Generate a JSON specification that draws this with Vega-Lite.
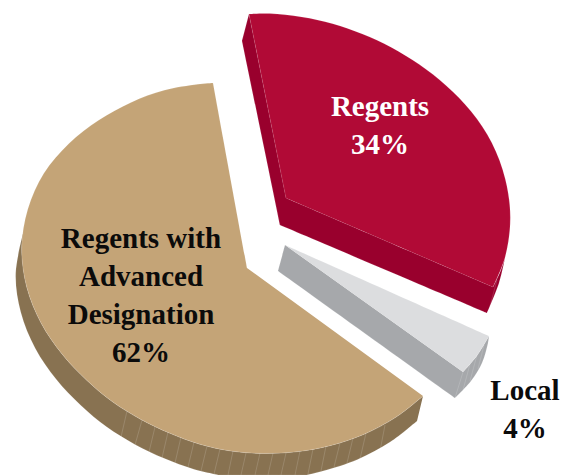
{"$schema":"https://vega.github.io/schema/vega-lite/v6.json","width":570,"height":475,"padding":0,"autosize":{"type":"none"},"background":"white","view":{"stroke":null},
"datasets":{
"outline":[
{"piece":"tan side","order":1,"x":423,"y":396},{"piece":"tan side","order":2,"x":423,"y":396},{"piece":"tan side","order":3,"x":396.1,"y":417.1},{"piece":"tan side","order":4,"x":363.6,"y":434.4},{"piece":"tan side","order":5,"x":329.8,"y":445.7},{"piece":"tan side","order":6,"x":296.2,"y":451.8},{"piece":"tan side","order":7,"x":263.2,"y":453.4},{"piece":"tan side","order":8,"x":231,"y":451},{"piece":"tan side","order":9,"x":199.8,"y":444.2},{"piece":"tan side","order":10,"x":170,"y":433.3},{"piece":"tan side","order":11,"x":140.9,"y":419.4},{"piece":"tan side","order":12,"x":112.9,"y":402.1},{"piece":"tan side","order":13,"x":86.7,"y":380.2},{"piece":"tan side","order":14,"x":62.2,"y":354.2},{"piece":"tan side","order":15,"x":41.2,"y":323.2},{"piece":"tan side","order":16,"x":26.8,"y":287.3},{"piece":"tan side","order":17,"x":21.7,"y":248.3},{"piece":"tan side","order":18,"x":24.5,"y":228},{"piece":"tan side","order":19,"x":24.5,"y":228},{"piece":"tan side","order":20,"x":15.7,"y":273.3},{"piece":"tan side","order":21,"x":20.8,"y":312.3},{"piece":"tan side","order":22,"x":35.2,"y":348.2},{"piece":"tan side","order":23,"x":56.2,"y":379.2},{"piece":"tan side","order":24,"x":80.7,"y":405.2},{"piece":"tan side","order":25,"x":106.9,"y":427.1},{"piece":"tan side","order":26,"x":134.9,"y":444.4},{"piece":"tan side","order":27,"x":164,"y":458.3},{"piece":"tan side","order":28,"x":193.8,"y":469.2},{"piece":"tan side","order":29,"x":219,"y":475},{"piece":"tan side","order":30,"x":219,"y":475},{"piece":"tan side","order":31,"x":306,"y":475},{"piece":"tan side","order":32,"x":306,"y":475},{"piece":"tan side","order":33,"x":323.8,"y":470.7},{"piece":"tan side","order":34,"x":357.6,"y":459.4},{"piece":"tan side","order":35,"x":390.1,"y":442.1},{"piece":"tan side","order":36,"x":417,"y":421},{"piece":"tan side","order":37,"x":417,"y":421},
{"piece":"tan top","order":1,"x":247,"y":268},{"piece":"tan top","order":2,"x":247,"y":268},{"piece":"tan top","order":3,"x":213,"y":83},{"piece":"tan top","order":4,"x":213,"y":83},{"piece":"tan top","order":5,"x":197.8,"y":84.3},{"piece":"tan top","order":6,"x":164.2,"y":90.3},{"piece":"tan top","order":7,"x":131,"y":102.4},{"piece":"tan top","order":8,"x":99,"y":120},{"piece":"tan top","order":9,"x":69,"y":143.4},{"piece":"tan top","order":10,"x":43.9,"y":173.3},{"piece":"tan top","order":11,"x":27.8,"y":209.3},{"piece":"tan top","order":12,"x":21.7,"y":248.3},{"piece":"tan top","order":13,"x":26.8,"y":287.3},{"piece":"tan top","order":14,"x":41.2,"y":323.2},{"piece":"tan top","order":15,"x":62.2,"y":354.2},{"piece":"tan top","order":16,"x":86.7,"y":380.2},{"piece":"tan top","order":17,"x":112.9,"y":402.1},{"piece":"tan top","order":18,"x":140.9,"y":419.4},{"piece":"tan top","order":19,"x":170,"y":433.3},{"piece":"tan top","order":20,"x":199.8,"y":444.2},{"piece":"tan top","order":21,"x":231,"y":451},{"piece":"tan top","order":22,"x":263.2,"y":453.4},{"piece":"tan top","order":23,"x":296.2,"y":451.8},{"piece":"tan top","order":24,"x":329.8,"y":445.7},{"piece":"tan top","order":25,"x":363.6,"y":434.4},{"piece":"tan top","order":26,"x":396.1,"y":417.1},{"piece":"tan top","order":27,"x":423,"y":396},{"piece":"tan top","order":28,"x":423,"y":396},
{"piece":"red side","order":1,"x":249,"y":14},{"piece":"red side","order":2,"x":249,"y":14},{"piece":"red side","order":3,"x":242,"y":41},{"piece":"red side","order":4,"x":242,"y":41},{"piece":"red side","order":5,"x":280,"y":225},{"piece":"red side","order":6,"x":280,"y":225},{"piece":"red side","order":7,"x":487,"y":313},{"piece":"red side","order":8,"x":487,"y":313},{"piece":"red side","order":9,"x":499,"y":283},{"piece":"red side","order":10,"x":505,"y":258},{"piece":"red side","order":11,"x":505,"y":258},{"piece":"red side","order":12,"x":500.5,"y":271},{"piece":"red side","order":13,"x":493,"y":287},{"piece":"red side","order":14,"x":493,"y":287},{"piece":"red side","order":15,"x":286,"y":198},{"piece":"red side","order":16,"x":286,"y":198},
{"piece":"red top","order":1,"x":286,"y":198},{"piece":"red top","order":2,"x":286,"y":198},{"piece":"red top","order":3,"x":249,"y":14},{"piece":"red top","order":4,"x":249,"y":14},{"piece":"red top","order":5,"x":269.7,"y":13.6},{"piece":"red top","order":6,"x":301.8,"y":17},{"piece":"red top","order":7,"x":332.7,"y":23.7},{"piece":"red top","order":8,"x":362.4,"y":34},{"piece":"red top","order":9,"x":391.5,"y":47.4},{"piece":"red top","order":10,"x":419.4,"y":64.6},{"piece":"red top","order":11,"x":446.3,"y":85.8},{"piece":"red top","order":12,"x":471.2,"y":111.6},{"piece":"red top","order":13,"x":491.8,"y":142.8},{"piece":"red top","order":14,"x":505.2,"y":178.8},{"piece":"red top","order":15,"x":510.3,"y":217.6},{"piece":"red top","order":16,"x":505.2,"y":256.7},{"piece":"red top","order":17,"x":493,"y":287},{"piece":"red top","order":18,"x":493,"y":287},
{"piece":"grey side","order":1,"x":285,"y":245},{"piece":"grey side","order":2,"x":285,"y":245},{"piece":"grey side","order":3,"x":278,"y":271},{"piece":"grey side","order":4,"x":278,"y":271},{"piece":"grey side","order":5,"x":455,"y":398},{"piece":"grey side","order":6,"x":455,"y":398},{"piece":"grey side","order":7,"x":471,"y":381},{"piece":"grey side","order":8,"x":482,"y":363},{"piece":"grey side","order":9,"x":488,"y":343},{"piece":"grey side","order":10,"x":489,"y":336},{"piece":"grey side","order":11,"x":489,"y":336},{"piece":"grey side","order":12,"x":477,"y":355.5},{"piece":"grey side","order":13,"x":463,"y":372},{"piece":"grey side","order":14,"x":463,"y":372},
{"piece":"grey top","order":1,"x":285,"y":245},{"piece":"grey top","order":2,"x":285,"y":245},{"piece":"grey top","order":3,"x":489,"y":336},{"piece":"grey top","order":4,"x":489,"y":336},{"piece":"grey top","order":5,"x":477,"y":355.5},{"piece":"grey top","order":6,"x":463,"y":372},{"piece":"grey top","order":7,"x":463,"y":372}
],
"hatch":[
{"x":127,"y":411,"x2":121,"y2":437},{"x":142,"y":420,"x2":135,"y2":445},{"x":155,"y":427,"x2":149,"y2":452},{"x":168,"y":432,"x2":162,"y2":458},{"x":181,"y":437,"x2":175,"y2":463},{"x":194,"y":442,"x2":188,"y2":467},{"x":207,"y":446,"x2":201,"y2":471},{"x":220,"y":449,"x2":214,"y2":474},{"x":233,"y":451,"x2":228,"y2":475},{"x":246,"y":453,"x2":241,"y2":475},{"x":260,"y":453,"x2":255,"y2":475},{"x":273,"y":453,"x2":268,"y2":475},{"x":286,"y":453,"x2":281,"y2":475},{"x":300,"y":451,"x2":295,"y2":475},{"x":313,"y":449,"x2":308,"y2":474},{"x":326,"y":446,"x2":321,"y2":471},{"x":340,"y":443,"x2":334,"y2":467},{"x":353,"y":438,"x2":347,"y2":463},{"x":366,"y":433,"x2":360,"y2":459},{"x":385,"y":425,"x2":380,"y2":451},
{"x":463,"y":372,"x2":455,"y2":398},{"x":470,"y":364,"x2":463,"y2":390},{"x":477,"y":355,"x2":470,"y2":381},{"x":484,"y":345,"x2":478,"y2":369},
{"x":497,"y":280,"x2":490,"y2":306}
],
"labels":[
{"text":"Regents\n34%","share":34,"x":380,"y":116,"tone":"light"},
{"text":"Regents with\nAdvanced\nDesignation\n62%","share":62,"x":141,"y":248,"tone":"dark"},
{"text":"Local\n4%","share":4,"x":525,"y":400,"tone":"dark"}
]},
"layer":[
{"data":{"name":"outline"},"mark":{"type":"line","strokeWidth":0.4,"strokeOpacity":0.3,"interpolate":"catmull-rom"},
"encoding":{"x":{"field":"x","type":"quantitative","scale":{"domain":[0,570]},"axis":null},"y":{"field":"y","type":"quantitative","scale":{"domain":[475,0]},"axis":null},"order":{"field":"order"},"detail":{"field":"piece"},
"fill":{"field":"piece","type":"nominal","legend":null,"scale":{"domain":["tan side","tan top","red side","red top","grey side","grey top"],"range":["#887251","#c4a477","#99002d","#b10a36","#a6a8ab","#dcdddf"]}},"stroke":{"value":"#ffffff"}}},
{"data":{"name":"hatch"},"mark":{"type":"rule","stroke":"#ffffff","strokeWidth":0.5,"strokeOpacity":0.3},
"encoding":{"x":{"field":"x","type":"quantitative","scale":{"domain":[0,570]},"axis":null},"y":{"field":"y","type":"quantitative","scale":{"domain":[475,0]},"axis":null},"x2":{"field":"x2"},"y2":{"field":"y2"}}},
{"data":{"name":"labels"},"mark":{"type":"text","font":"Liberation Serif","fontWeight":"bold","fontSize":29,"lineBreak":"\n","lineHeight":38,"align":"center","baseline":"alphabetic"},
"encoding":{"x":{"field":"x","type":"quantitative","scale":{"domain":[0,570]},"axis":null},"y":{"field":"y","type":"quantitative","scale":{"domain":[475,0]},"axis":null},"text":{"field":"text"},"color":{"field":"tone","type":"nominal","legend":null,"scale":{"domain":["light","dark"],"range":["#ffffff","#0b0b0b"]}}}}
]}
